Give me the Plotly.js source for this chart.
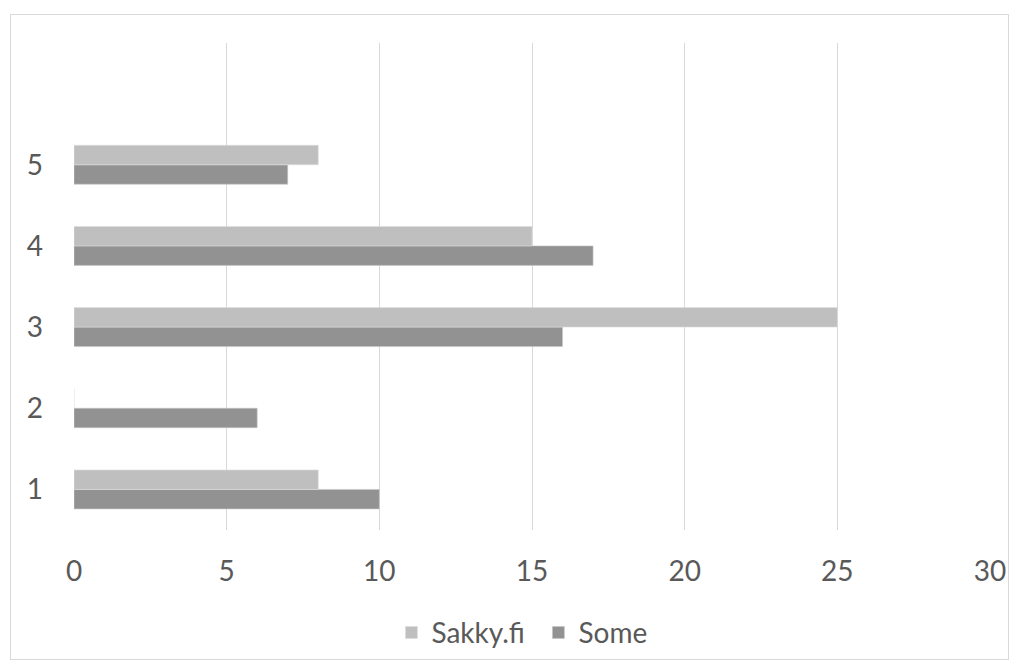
<!DOCTYPE html>
<html>
<head>
<meta charset="utf-8">
<script src="https://cdn.plot.ly/plotly-3.0.1.min.js"></script>
<style>
  html, body { margin: 0; padding: 0; background: #fff; }
  #frame { position: absolute; left: 10px; top: 14px; width: 999px; height: 646px; border: 1px solid #d9d9d9; box-sizing: border-box; pointer-events: none; }
  #chart { position: absolute; left: 0; top: 0; width: 1024px; height: 671px; }
</style>
</head>
<body>
<div id="chart"></div>
<div id="frame"></div>
<script>
// Answer categories and counts per channel
const categories = [1, 2, 3, 4, 5];
const categoryLabels = ['1', '2', '3', '4', '5'];
const sakkyValues = [8, 0, 25, 15, 8];
const someValues = [10, 6, 16, 17, 7];
const xTicks = [0, 5, 10, 15, 20, 25, 30];

const font = { family: 'Lato, "Open Sans", sans-serif', size: 28, color: '#595959' };

const traces = [
  {
    type: 'bar', orientation: 'h', name: 'Some',
    y: categories, x: someValues,
    marker: { color: '#929292', line: { color: '#c8c8c8', width: 0.6 } },
    hoverinfo: 'x+name'
  },
  {
    type: 'bar', orientation: 'h', name: 'Sakky.fi',
    y: categories, x: sakkyValues,
    marker: { color: '#bfbfbf', line: { color: '#dedede', width: 0.6 } },
    hoverinfo: 'x+name'
  }
];

const layout = {
  width: 1024, height: 671,
  margin: { l: 74, r: 34, t: 43, b: 141 },
  paper_bgcolor: '#ffffff', plot_bgcolor: '#ffffff',
  font: font,
  barmode: 'group',
  bargap: 0.52,
  bargroupgap: 0,
  showlegend: true,
  legend: {
    orientation: 'h', traceorder: 'reversed',
    x: 0.507, xanchor: 'center', y: -0.211, yanchor: 'middle',
    font: font, itemwidth: 30,
    entrywidth: 102, entrywidthmode: 'pixels'
  },
  xaxis: {
    range: [0, 30], tickvals: xTicks, ticktext: xTicks.map(String),
    showgrid: true, gridcolor: '#d9d9d9', gridwidth: 1,
    zeroline: false, showline: false, ticks: '',
    ticklabelstandoff: 22, fixedrange: true
  },
  yaxis: {
    range: [0.5, 6.5], tickvals: categories, ticktext: categoryLabels,
    showgrid: false, zeroline: false, showline: false, ticks: '',
    ticklabelstandoff: 30, fixedrange: true
  }
};

Plotly.newPlot('chart', traces, layout, { displayModeBar: false, staticPlot: true });
</script>
</body>
</html>
